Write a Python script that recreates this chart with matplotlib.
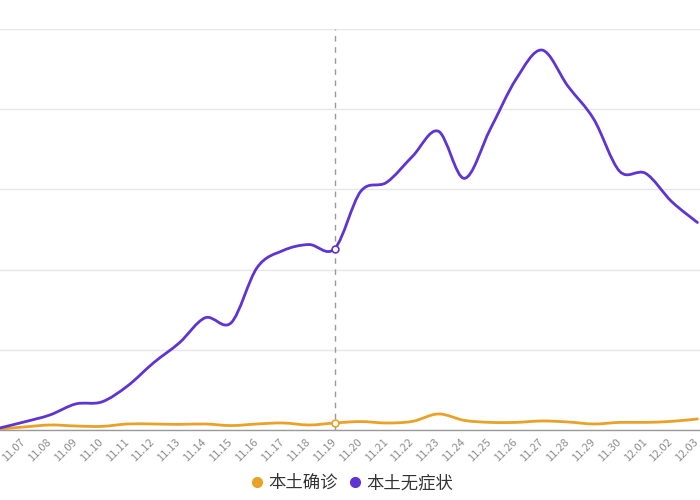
import matplotlib
matplotlib.use('Agg')
import matplotlib.pyplot as plt
from matplotlib.path import Path
from matplotlib.patches import PathPatch
from matplotlib.lines import Line2D
from matplotlib.transforms import ScaledTranslation
import numpy as np

plt.rcParams['font.family'] = ['Noto Sans CJK SC', 'DejaVu Sans']

# data (y axis labels are cropped, scale is relative)
dates = ['11.06', '11.07', '11.08', '11.09', '11.10', '11.11', '11.12', '11.13',
         '11.14', '11.15', '11.16', '11.17', '11.18', '11.19', '11.20', '11.21',
         '11.22', '11.23', '11.24', '11.25', '11.26', '11.27', '11.28', '11.29',
         '11.30', '12.01', '12.02', '12.03']
confirmed = [20, 75, 125, 100, 90, 150, 150, 140, 150, 110, 150, 175, 125, 175,
             210, 175, 215, 400, 240, 190, 190, 225, 200, 150, 190, 190, 215, 275]
asymptomatic = [40, 200, 375, 650, 700, 1100, 1675, 2175, 2800, 2675, 4050, 4475,
                4625, 4525, 5950, 6175, 6825, 7450, 6275, 7500, 8750, 9475, 8575,
                7750, 6450, 6400, 5700, 5175]
highlight = '11.19'

colors = {'confirmed': '#E9A227', 'asym': '#5E34D2', 'grid': '#E6E6E6',
          'axis': '#9A9A9A', 'text': '#333333', 'tick': '#8C8C8C'}


def smooth_path(x, y, k=1 / 6):
    # catmull-rom style bezier through every data point
    p = np.column_stack([np.asarray(x, float), np.asarray(y, float)])
    n = len(p)
    verts = [tuple(p[0])]
    codes = [Path.MOVETO]
    for i in range(n - 1):
        a = p[i - 1] if i > 0 else p[i]
        d = p[i + 2] if i + 2 < n else p[i + 1]
        c1 = p[i] + k * (p[i + 1] - a)
        c2 = p[i + 1] - k * (d - p[i])
        verts += [tuple(c1), tuple(c2), tuple(p[i + 1])]
        codes += [Path.CURVE4] * 3
    return Path(verts, codes)


fig = plt.figure(figsize=(7, 5), dpi=100)
ax = fig.add_axes([0, 0.14, 1, 0.802])

xs = np.arange(len(dates))
ax.set_xlim(1 - 24 / 25.9, 1 - 24 / 25.9 + 700 / 25.9)
ax.set_ylim(0, 10000)

for vals, key in [(confirmed, 'confirmed'), (asymptomatic, 'asym')]:
    ax.add_patch(PathPatch(smooth_path(xs, vals), facecolor='none',
                           edgecolor=colors[key], lw=2, zorder=3,
                           capstyle='round', joinstyle='round'))

hi = dates.index(highlight)
ax.plot([hi, hi], [0, 10000], color=colors['axis'], lw=1, ls=(0, (4, 4)), zorder=2)
ax.scatter([hi], [confirmed[hi]], s=24, facecolor='white', edgecolor=colors['confirmed'],
           lw=1.2, zorder=4)
ax.scatter([hi], [asymptomatic[hi]], s=24, facecolor='white', edgecolor=colors['asym'],
           lw=1.2, zorder=4)

ax.set_yticks(np.arange(0, 10001, 2000))
ax.yaxis.grid(True, color=colors['grid'], lw=1)
ax.set_axisbelow(True)
ax.tick_params(axis='y', length=0, labelleft=False)
ax.set_xticks(xs[1:])
ax.set_xticklabels(dates[1:], rotation=45, ha='right', rotation_mode='anchor',
                   fontsize=8, color=colors['tick'])
ax.tick_params(axis='x', length=0, pad=5)
shift = ScaledTranslation(-4 / 100, 0, fig.dpi_scale_trans)
for lbl in ax.get_xticklabels():
    lbl.set_transform(lbl.get_transform() + shift)
for s in ['top', 'right', 'left']:
    ax.spines[s].set_visible(False)
ax.spines['bottom'].set_color(colors['axis'])
ax.spines['bottom'].set_linewidth(1)

handles = [Line2D([], [], ls='none', marker='o', ms=7, color=colors['confirmed']),
           Line2D([], [], ls='none', marker='o', ms=7, color=colors['asym'])]
fig.legend(handles, ['本土确诊', '本土无症状'], loc='center', bbox_to_anchor=(0.5, 0.034),
           ncol=2, frameon=False, fontsize=12.5, handletextpad=0.05, columnspacing=0.4,
           handlelength=1.2, labelcolor=colors['text'])

fig.savefig('out.png', dpi=100)
